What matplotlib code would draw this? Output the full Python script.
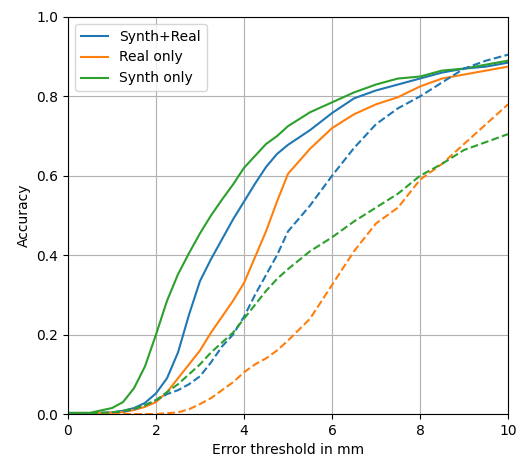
import matplotlib
matplotlib.use("Agg")
import matplotlib.pyplot as plt

x = [0, 0.5, 1, 1.25, 1.5, 1.75, 2, 2.25, 2.5, 2.75, 3, 3.25, 3.5, 3.75, 4,
     4.25, 4.5, 4.75, 5, 5.5, 6, 6.5, 7, 7.5, 8, 8.5, 9, 9.5, 10]

synth_real = [0.002, 0.002, 0.004, 0.008, 0.015, 0.028, 0.052, 0.09, 0.155, 0.25, 0.335,
              0.39, 0.44, 0.49, 0.535, 0.58, 0.622, 0.655, 0.678, 0.715, 0.758, 0.795,
              0.815, 0.83, 0.845, 0.86, 0.87, 0.875, 0.885]
real_only = [0.002, 0.002, 0.003, 0.005, 0.01, 0.018, 0.03, 0.055, 0.09, 0.125, 0.16,
             0.205, 0.245, 0.285, 0.33, 0.395, 0.46, 0.535, 0.605, 0.668, 0.72, 0.755,
             0.78, 0.798, 0.825, 0.845, 0.855, 0.865, 0.875]
synth_only = [0.003, 0.003, 0.015, 0.03, 0.065, 0.12, 0.2, 0.285, 0.352, 0.405, 0.455,
              0.5, 0.54, 0.578, 0.62, 0.65, 0.68, 0.70, 0.725, 0.76, 0.785, 0.81, 0.83,
              0.845, 0.85, 0.865, 0.87, 0.88, 0.89]

synth_real_d = [0.002, 0.002, 0.003, 0.006, 0.012, 0.022, 0.035, 0.05, 0.06, 0.075, 0.095,
                0.13, 0.17, 0.2, 0.245, 0.3, 0.35, 0.4, 0.46, 0.525, 0.6, 0.67, 0.73,
                0.77, 0.8, 0.835, 0.87, 0.89, 0.905]
real_only_d = [0.0, 0.0, 0.0, 0.0, 0.0, 0.0, 0.0, 0.002, 0.004, 0.012, 0.025, 0.04, 0.06,
               0.08, 0.105, 0.125, 0.14, 0.16, 0.185, 0.24, 0.325, 0.41, 0.48, 0.52,
               0.59, 0.63, 0.68, 0.73, 0.78]
synth_only_d = [0.002, 0.002, 0.004, 0.008, 0.014, 0.022, 0.035, 0.055, 0.075, 0.1, 0.125,
                0.155, 0.18, 0.205, 0.24, 0.275, 0.31, 0.34, 0.365, 0.41, 0.445, 0.485,
                0.52, 0.555, 0.6, 0.63, 0.665, 0.685, 0.705]

labels = ["Synth+Real", "Real only", "Synth only"]
colors = ["#1f77b4", "#ff7f0e", "#2ca02c"]

fig = plt.figure(figsize=(5.17, 4.63), dpi=100)
ax = fig.add_axes([68 / 517, 49 / 463, 440 / 517, 397 / 463])

for ys, lab, c in zip([synth_real, real_only, synth_only], labels, colors):
    ax.plot(x, ys, color=c, label=lab)
for ys, c in zip([synth_real_d, real_only_d, synth_only_d], colors):
    ax.plot(x, ys, color=c, linestyle="--")

ax.set_xlim(0, 10)
ax.set_ylim(0, 1)
ax.grid(True)
ax.set_xlabel("Error threshold in mm")
ax.set_ylabel("Accuracy")
ax.legend(loc="upper left")

fig.savefig("out.png", dpi=100)
